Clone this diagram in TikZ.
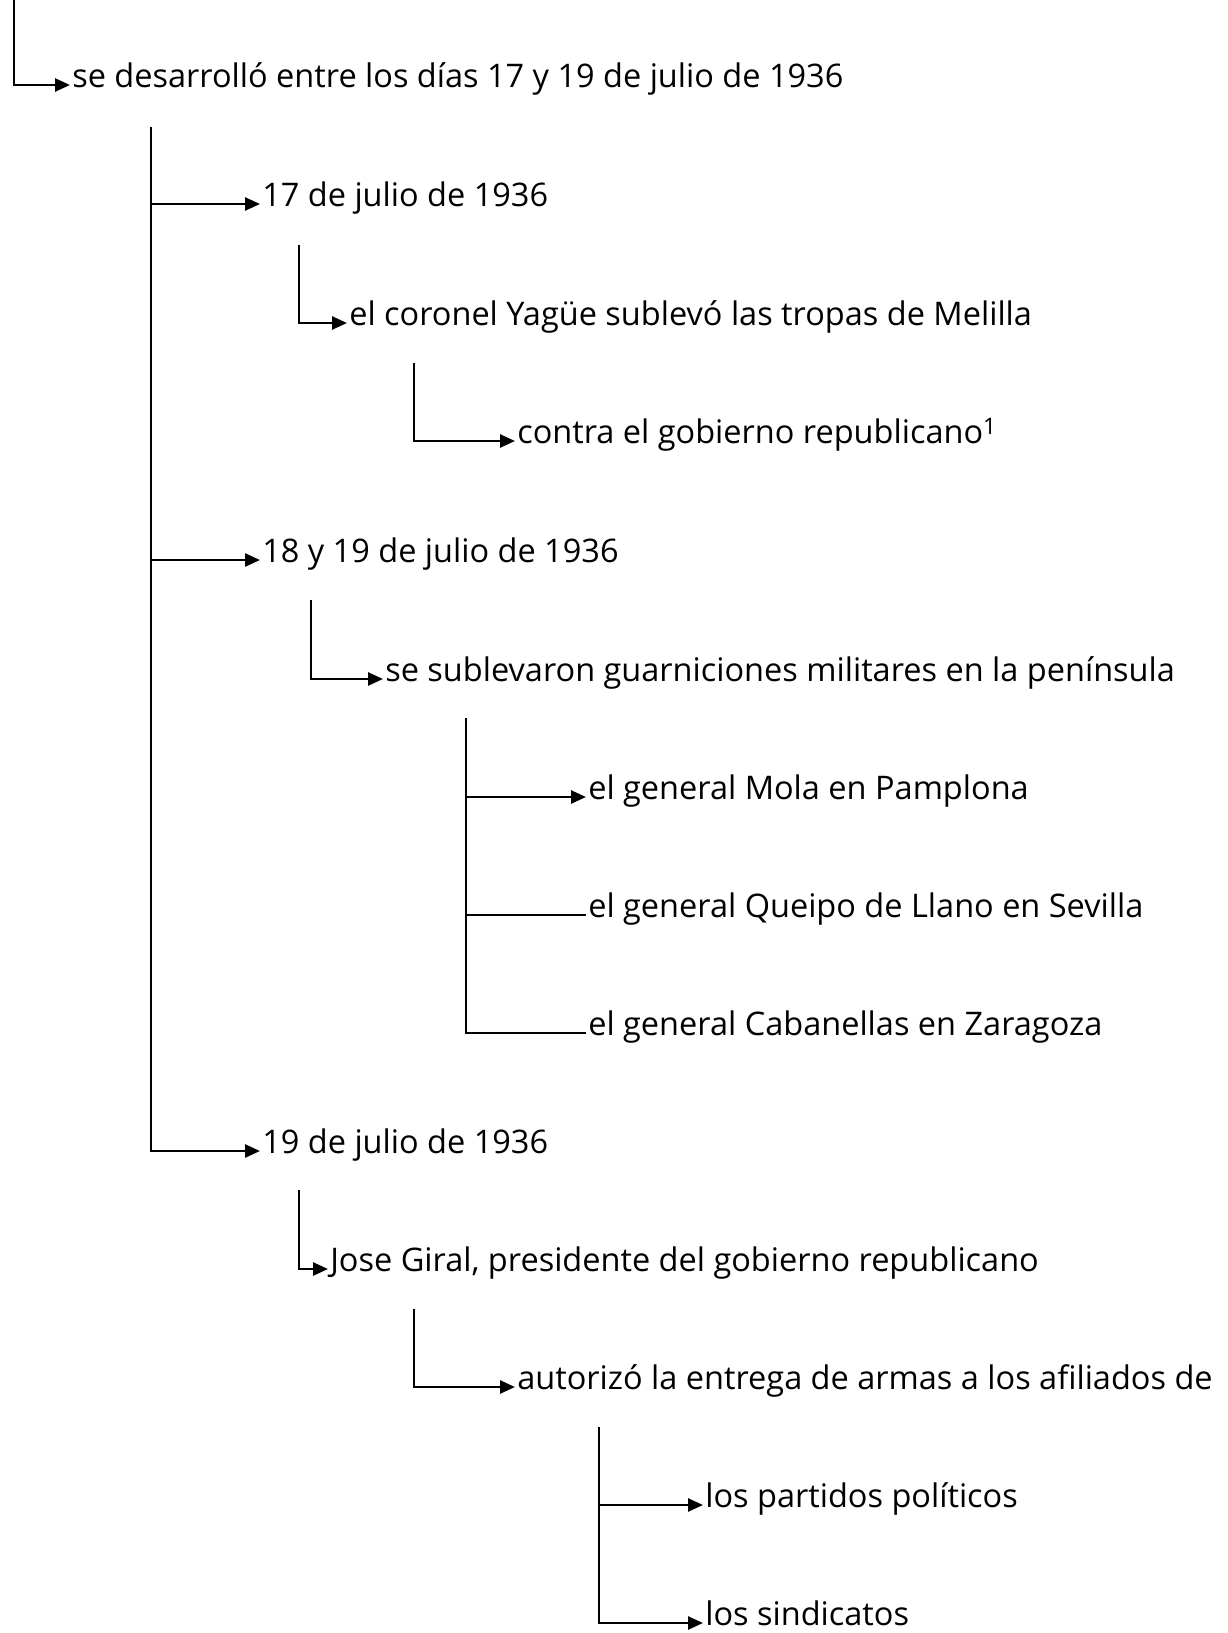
\documentclass[tikz,border=0pt]{standalone}
\usepackage{fontspec}
\setmainfont{Open Sans}
\usetikzlibrary{arrows.meta}

\tikzset{every picture/.style={line width=2.6pt}}
\tikzset{
  lbl/.style={anchor=west, inner xsep=1pt, inner ysep=0pt, text height=0.75em, text depth=0.25em, font=\fontsize{32.5}{39}\selectfont},
  arr/.style={-{Triangle[length=15pt,width=13pt]}},
  thinline/.style={line width=1.5pt},
}

\begin{document}
\begin{tikzpicture}[x=1pt,y=1pt,yscale=-1,xscale=1]
\useasboundingbox (0,0) rectangle (1228,1633);

% Text Node
\node [lbl] (desarrollo) at (70,85) {se desarrolló entre los días 17 y 19 de julio de 1936};
% Text Node
\node [lbl] (dia17) at (260,204) {17 de julio de 1936};
% Text Node
\node [lbl] (yague) at (347,323) {el coronel Yagüe sublevó las tropas de Melilla};
% Text Node
\node [lbl] (contra) at (515,441) {contra el gobierno republicano\textsuperscript{1}};
% Text Node
\node [lbl] (dia18) at (260,560) {18 y 19 de julio de 1936};
% Text Node
\node [lbl] (guarniciones) at (383,679) {se sublevaron guarniciones militares en la península};
% Text Node
\node [lbl] (mola) at (586,797) {el general Mola en Pamplona};
% Text Node
\node [lbl] (queipo) at (586,915) {el general Queipo de Llano en Sevilla};
% Text Node
\node [lbl] (cabanellas) at (586,1033) {el general Cabanellas en Zaragoza};
% Text Node
\node [lbl] (dia19) at (260,1151) {19 de julio de 1936};
% Text Node
\node [lbl] (giral) at (328,1269) {Jose Giral, presidente del gobierno republicano};
% Text Node
\node [lbl] (armas) at (515,1387) {autorizó la entrega de armas a los afiliados de};
% Text Node
\node [lbl] (partidos) at (703,1505) {los partidos políticos};
% Text Node
\node [lbl] (sindicatos) at (703,1623) {los sindicatos};

% Spine tops
\coordinate (s0) at (14,0);
\coordinate (s1) at (151,127);
\coordinate (s2) at (299,245);
\coordinate (s3) at (414,363);
\coordinate (s4) at (311,600);
\coordinate (s5) at (466,718);
\coordinate (s6) at (299,1190);
\coordinate (s7) at (414,1309);
\coordinate (s8) at (599,1427);

%Straight Lines
\draw [arr] (s0) |- (desarrollo.west);
\draw [arr] (s1) |- (dia17.west);
\draw [arr] (s1) |- (dia18.west);
\draw [arr] (s1) |- (dia19.west);
\draw [arr] (s2) |- (yague.west);
\draw [arr] (s3) |- (contra.west);
\draw [arr] (s4) |- (guarniciones.west);
\draw [arr] (s5) |- (mola.west);
\draw [thinline] (s5) |- (queipo.west);
\draw [thinline] (s5) |- (cabanellas.west);
\draw [arr] (s6) |- (giral.west);
\draw [arr] (s7) |- (armas.west);
\draw [arr] (s8) |- (partidos.west);
\draw [arr] (s8) |- (sindicatos.west);

\end{tikzpicture}
\end{document}
